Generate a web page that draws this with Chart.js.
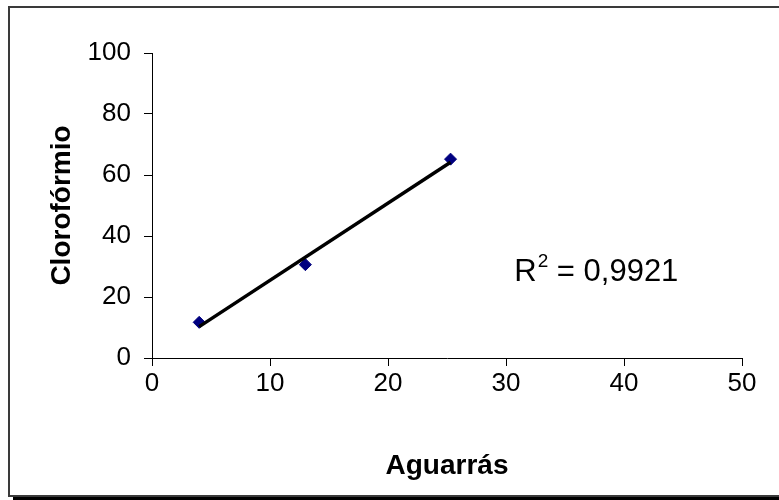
<!DOCTYPE html>
<html>
<head>
<meta charset="utf-8">
<script src="https://cdn.jsdelivr.net/npm/chart.js@4/dist/chart.umd.min.js"></script>
<style>
  html, body { margin: 0; padding: 0; background: #fff; }
  #c { display: block; }
</style>
</head>
<body>
<canvas id="c" width="779" height="500"></canvas>
<script>
// ---- data ----
const aguarras = [4, 13, 25.3];          // x values
const cloroformio = [11.7, 30.6, 65.2];  // y values
const xTickValues = [0, 10, 20, 30, 40, 50];
const yTickValues = [0, 20, 40, 60, 80, 100];
const xTitle = 'Aguarrás';
const yTitle = 'Clorofórmio';
const r2Label = 'R';
const r2Sup = '2';
const r2Value = ' = 0,9921';

// linear trendline (least squares) from the data
const n = aguarras.length;
const mx = aguarras.reduce((a, b) => a + b, 0) / n;
const my = cloroformio.reduce((a, b) => a + b, 0) / n;
let sxy = 0, sxx = 0;
for (let i = 0; i < n; i++) { sxy += (aguarras[i] - mx) * (cloroformio[i] - my); sxx += (aguarras[i] - mx) ** 2; }
const slope = sxy / sxx;
const intercept = my - slope * mx;
const xMinD = Math.min(...aguarras), xMaxD = Math.max(...aguarras);
const trend = [xMinD, xMaxD].map(x => ({ x, y: intercept + slope * x }));

const points = aguarras.map((x, i) => ({ x, y: cloroformio[i] }));

const FONT = '"Liberation Sans", Arial, sans-serif';

const framePlugin = {
  id: 'frame',
  beforeDraw(chart) {
    const ctx = chart.ctx;
    ctx.save();
    ctx.fillStyle = '#fff';
    ctx.fillRect(0, 0, chart.width, chart.height);
    ctx.strokeStyle = '#3a3a3a';
    ctx.lineWidth = 2;
    ctx.strokeRect(9, 7, chart.width + 10, 489);
    ctx.fillStyle = '#000';
    ctx.fillRect(13, 497, chart.width, 3);
    ctx.restore();
  },
  afterDatasetsDraw(chart) {
    const ctx = chart.ctx;
    const xs = chart.scales.x, ys = chart.scales.y;
    const x0 = xs.getPixelForValue(30.7);
    const y0 = ys.getPixelForValue(25.3);
    ctx.save();
    ctx.fillStyle = '#000';
    ctx.textBaseline = 'alphabetic';
    ctx.textAlign = 'left';
    ctx.font = '31px ' + FONT;
    ctx.fillText(r2Label, x0, y0);
    let w = ctx.measureText(r2Label).width;
    ctx.font = '19px ' + FONT;
    ctx.fillText(r2Sup, x0 + w + 1, y0 - 14);
    w += ctx.measureText(r2Sup).width + 1;
    ctx.font = '31px ' + FONT;
    ctx.fillText(r2Value, x0 + w, y0);
    ctx.restore();
  }
};

new Chart(document.getElementById('c'), {
  type: 'scatter',
  data: {
    datasets: [
      {
        label: 'Clorofórmio',
        data: points,
        pointStyle: 'rectRot',
        pointRadius: 6,
        pointHoverRadius: 6,
        backgroundColor: '#000080',
        borderColor: '#000080',
        borderWidth: 1,
        showLine: false,
        order: 1
      },
      {
        type: 'line',
        label: 'Linear',
        data: trend,
        borderColor: '#000',
        borderWidth: 3.5,
        pointRadius: 0,
        fill: false,
        order: 0
      }
    ]
  },
  options: {
    responsive: false,
    animation: false,
    devicePixelRatio: 1,
    layout: { padding: { top: 53, right: 37, left: 0, bottom: 0 } },
    plugins: { legend: { display: false }, tooltip: { enabled: false } },
    scales: {
      x: {
        type: 'linear',
        min: 0, max: 50,
        afterBuildTicks(scale) { scale.ticks = xTickValues.map(v => ({ value: v })); },
        afterFit(scale) { scale.height = 142; },
        grid: { drawOnChartArea: false, drawTicks: true, tickLength: 8, color: '#000', tickColor: '#000' },
        border: { display: true, color: '#000', width: 1 },
        ticks: { color: '#000', font: { family: FONT, size: 26 }, padding: 2, maxRotation: 0 },
        title: { display: true, text: xTitle, color: '#000', font: { family: FONT, size: 28, weight: 'bold' }, padding: { top: 0, bottom: 17 } }
      },
      y: {
        type: 'linear',
        min: 0, max: 100,
        afterBuildTicks(scale) { scale.ticks = yTickValues.map(v => ({ value: v })); },
        afterFit(scale) { scale.width = 152; },
        grid: { drawOnChartArea: false, drawTicks: true, tickLength: 8, color: '#000', tickColor: '#000' },
        border: { display: true, color: '#000', width: 1 },
        ticks: { color: '#000', font: { family: FONT, size: 26 }, padding: 13 },
        title: { display: true, text: yTitle, color: '#000', font: { family: FONT, size: 28, weight: 'bold' }, padding: { top: 45, bottom: 0 } }
      }
    }
  },
  plugins: [framePlugin]
});
</script>
</body>
</html>
